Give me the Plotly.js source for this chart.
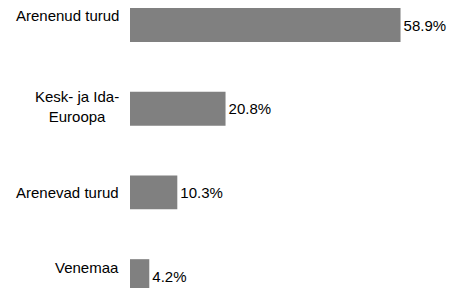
<!DOCTYPE html>
<html>
<head>
<meta charset="utf-8">
<script src="https://cdn.plot.ly/plotly-3.0.1.min.js"></script>
<style>html,body{margin:0;padding:0;background:#fff;}#chart{width:463px;height:288px;}</style>
</head>
<body>
<div id="chart"></div>
<script>
var categories = ["Arenenud turud", "Kesk- ja Ida-<br>Euroopa", "Arenevad turud", "Venemaa"];
var values = [58.9, 20.8, 10.3, 4.2];
var labelShift = [10, 2, 0, 9];

var trace = {
  type: "bar",
  orientation: "h",
  y: categories,
  x: values,
  marker: {color: "#808080"},
  texttemplate: "%{x:.1f}%",
  textposition: "outside",
  textfont: {family: "Liberation Sans, Arial, sans-serif", size: 15, color: "#000"},
  cliponaxis: false,
  hoverinfo: "none"
};

var annotations = categories.map(function (c, i) {
  return {
    xref: "x", yref: "y", x: 0, y: c,
    text: c, showarrow: false,
    xanchor: "right", yanchor: "middle", align: "center",
    xshift: -9, yshift: labelShift[i],
    font: {family: "Liberation Sans, Arial, sans-serif", size: 15, color: "#000"}
  };
});

var layout = {
  width: 463, height: 288,
  margin: {l: 130, r: 0, t: 0, b: 0, pad: 0},
  paper_bgcolor: "#fff", plot_bgcolor: "#fff",
  showlegend: false,
  bargap: 0.595,
  xaxis: {range: [0, 72.5], visible: false, fixedrange: true},
  yaxis: {type: "category", range: [3.142, -0.299], showticklabels: false,
          showgrid: false, zeroline: false, showline: false, ticks: "", fixedrange: true},
  annotations: annotations,
  font: {family: "Liberation Sans, Arial, sans-serif", size: 15, color: "#000"}
};

Plotly.newPlot("chart", [trace], layout, {displayModeBar: false, staticPlot: true});
</script>
</body>
</html>
